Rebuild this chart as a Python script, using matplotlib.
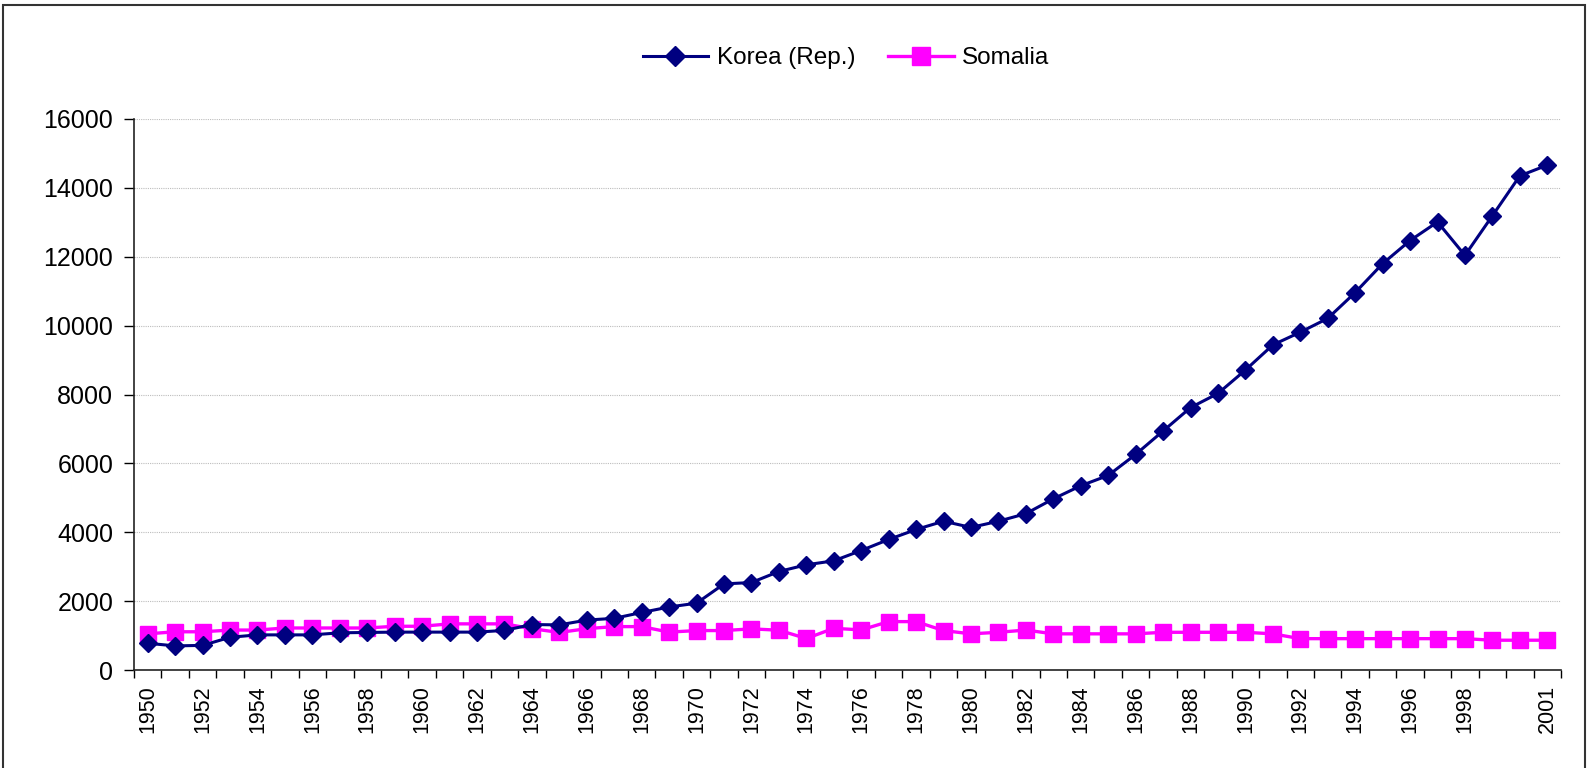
import matplotlib as mpl
mpl.use("Agg")
import matplotlib.pyplot as plt
from matplotlib.patches import Rectangle

mpl.rcParams.update({"font.family": ["Liberation Sans", "DejaVu Sans"]})

years = list(range(1950, 2002))
korea = [776, 700, 715, 950, 1020, 1020, 1020, 1080, 1090, 1100,
         1100, 1100, 1100, 1150, 1320, 1310, 1450, 1500, 1670, 1830,
         1940, 2500, 2540, 2860, 3055, 3170, 3470, 3790, 4080, 4320,
         4140, 4320, 4540, 4970, 5350, 5650, 6260, 6940, 7620, 8030,
         8710, 9440, 9810, 10210, 10960, 11800, 12470, 13010, 12040, 13190,
         14350, 14660]
somalia = [1050, 1110, 1110, 1160, 1160, 1220, 1220, 1220, 1220, 1270,
           1270, 1340, 1340, 1340, 1200, 1090, 1200, 1260, 1260, 1100,
           1145, 1145, 1195, 1155, 915, 1210, 1165, 1405, 1405, 1145,
           1050, 1095, 1160, 1050, 1050, 1050, 1050, 1095, 1095, 1095,
           1095, 1050, 910, 910, 910, 910, 910, 910, 910, 865,
           865, 865]
label_years = [str(y) if (y - 1950) % 2 == 0 and y < 2000 else "" for y in years]
label_years[-1] = "2001"

fig = plt.figure(figsize=(15.87, 7.68), dpi=100)
ax = fig.add_axes([134/1587, 1-670/768, (1561-134)/1587, (670-119)/768])

xs = list(range(len(years)))
ax.plot(xs, korea, color="#000080", lw=2.2, marker="D", ms=9, mec="#000080",
        label="Korea (Rep.)", zorder=3)
ax.plot(xs, somalia, color="#FF00FF", lw=2.4, marker="s", ms=12, mec="#FF00FF",
        label="Somalia", zorder=2)

ax.set_xlim(-0.5, len(years) - 0.5)
ax.set_ylim(0, 16000)
ax.set_yticks(range(0, 16001, 2000))
ax.tick_params(axis="y", labelsize=18, length=7, width=1, pad=8, direction="out")
ax.yaxis.grid(True, color="#BDBDBD", ls=(0, (1, 1)), lw=0.8)
ax.set_axisbelow(True)

# category boundaries carry tick marks, labels sit at the centres
ax.set_xticks([i - 0.5 for i in range(len(years) + 1)])
ax.set_xticklabels([])
ax.tick_params(axis="x", which="major", length=6, width=1)
ax.set_xticks(xs, minor=True)
ax.set_xticklabels(label_years, minor=True, rotation=90, fontsize=15.5)
ax.tick_params(axis="x", which="minor", length=0, pad=11)

for s in ("top", "right"):
    ax.spines[s].set_visible(False)
for s in ("left", "bottom"):
    ax.spines[s].set_linewidth(1.2)
    ax.spines[s].set_color("#222222")

fig.legend(loc="center", bbox_to_anchor=(846/1587, 1-58/768), ncol=2, frameon=False,
           fontsize=17.5, handlelength=2.7, handletextpad=0.35, columnspacing=1.35,
           markerscale=1.1)

fig.patches.append(Rectangle((3/1587, -0.2), 1582/1587, 1.2 - 5/768, transform=fig.transFigure,
                             fill=False, edgecolor="#333333", lw=1.5))

fig.savefig("out.png", dpi=100)
